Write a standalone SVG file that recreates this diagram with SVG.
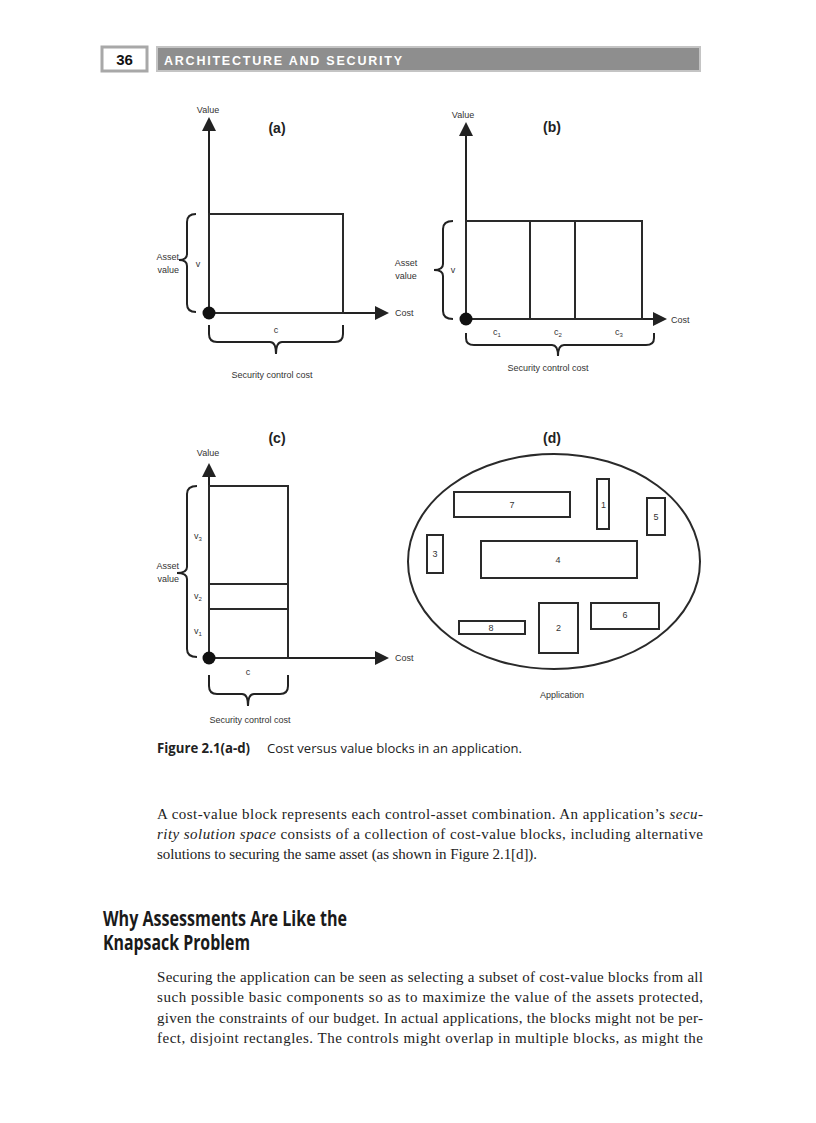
<svg xmlns="http://www.w3.org/2000/svg" width="816" height="1123" viewBox="0 0 816 1123">
<defs>
<style>
.ax{stroke:#222;stroke-width:2;fill:none}
.bx{stroke:#2a2a2a;stroke-width:2;fill:#fff}
.ln{stroke:#2a2a2a;stroke-width:2;fill:none}
.br{stroke:#222;stroke-width:2;fill:none}
.dot{fill:#111}
.lb{font-family:"Liberation Sans",Arial,sans-serif;font-size:9px;fill:#333}
.sub{font-size:6px}
.pl{font-family:"Liberation Sans",Arial,sans-serif;font-size:14px;font-weight:bold;fill:#222}
.body{font-family:"Liberation Serif","Times New Roman",serif;font-size:15px;fill:#222}
.it{font-style:italic}
.hd{font-family:"Open Sans","Noto Sans",sans-serif;font-size:21px;font-weight:bold;fill:#1a1a1a}
.cap{font-family:"Open Sans","Noto Sans",sans-serif;font-size:13.5px;fill:#222}
</style>
<marker id="ah" markerUnits="userSpaceOnUse" markerWidth="14" markerHeight="14" viewBox="0 0 14 14" refX="1" refY="7" orient="auto">
<path d="M0,0 L14,7 L0,14 z" fill="#222"/>
</marker>
</defs>
<rect width="816" height="1123" fill="#fff"/>

<g id="header">
<rect x="102" y="47" width="45" height="24" fill="#fff" stroke="#a8a8a8" stroke-width="3"/>
<text x="124.5" y="65" text-anchor="middle" font-family="'Liberation Sans',Arial,sans-serif" font-size="15" font-weight="bold" fill="#111">36</text>
<rect x="157" y="47" width="543" height="24" fill="#8e8e8e" stroke="#c4c4c4" stroke-width="2"/>
<text x="164" y="65" font-family="'Liberation Sans',Arial,sans-serif" font-size="12.5" font-weight="bold" fill="#fff" textLength="238" lengthAdjust="spacing">ARCHITECTURE AND SECURITY</text>
</g>

<g id="connectors">
<line class="ax" x1="209" y1="313" x2="209" y2="130" marker-end="url(#ah)"/>
<line class="ax" x1="209" y1="313" x2="376" y2="313" marker-end="url(#ah)"/>
<line class="ax" x1="466" y1="319" x2="466" y2="135" marker-end="url(#ah)"/>
<line class="ax" x1="466" y1="319" x2="654" y2="319" marker-end="url(#ah)"/>
<line class="ax" x1="209" y1="658" x2="209" y2="476" marker-end="url(#ah)"/>
<line class="ax" x1="209" y1="658" x2="376" y2="658" marker-end="url(#ah)"/>
</g>

<g id="panel-a">
<text class="pl" x="277" y="133" text-anchor="middle">(a)</text>
<text class="lb" x="208" y="113" text-anchor="middle">Value</text>
<g id="block-a"><rect x="209" y="214" width="134" height="99" class="ln"/></g>
<circle class="dot" cx="209" cy="313" r="6.5"/>
<path class="br" d="M196,214 Q187,214 187,222 L187,254 Q187,260 179,260 Q187,260 187,266 L187,304 Q187,312 196,312"/>
<text class="lb" x="179" y="260" text-anchor="end">Asset</text>
<text class="lb" x="179" y="273" text-anchor="end">value</text>
<text class="lb" x="198" y="267" text-anchor="middle">v</text>
<text class="lb" x="395" y="316">Cost</text>
<text class="lb" x="276" y="333" text-anchor="middle">c</text>
<path class="br" d="M209,325 L209,334 Q209,342 217,342 L270,342 Q276,342 276,354 Q276,342 282,342 L335,342 Q343,342 343,334 L343,325"/>
<text class="lb" x="272" y="378" text-anchor="middle">Security control cost</text>
</g>

<g id="panel-b">
<text class="pl" x="552" y="132" text-anchor="middle">(b)</text>
<text class="lb" x="463" y="118" text-anchor="middle">Value</text>
<g id="block-b"><rect x="466" y="221" width="176" height="98" class="ln"/>
<line class="ln" x1="530" y1="221" x2="530" y2="319"/>
<line class="ln" x1="575" y1="221" x2="575" y2="319"/></g>
<circle class="dot" cx="466" cy="319" r="6.5"/>
<path class="br" d="M453,221 Q443,221 443,229 L443,264 Q443,270 434,270 Q443,270 443,276 L443,311 Q443,319 453,319"/>
<text class="lb" x="406" y="266" text-anchor="middle">Asset</text>
<text class="lb" x="406" y="279" text-anchor="middle">value</text>
<text class="lb" x="453" y="273" text-anchor="middle">v</text>
<text class="lb" x="671" y="323">Cost</text>
<text class="lb" x="493" y="335">c<tspan class="sub" dy="2">1</tspan></text>
<text class="lb" x="554" y="335">c<tspan class="sub" dy="2">2</tspan></text>
<text class="lb" x="615" y="335">c<tspan class="sub" dy="2">3</tspan></text>
<path class="br" d="M466,333 L466,338 Q466,345 474,345 L552,345 Q558,345 558,356 Q558,345 564,345 L646,345 Q654,345 654,338 L654,333"/>
<text class="lb" x="548" y="371" text-anchor="middle">Security control cost</text>
</g>

<g id="panel-c">
<text class="pl" x="277" y="443" text-anchor="middle">(c)</text>
<text class="lb" x="208" y="456" text-anchor="middle">Value</text>
<g id="block-c"><rect x="209" y="486" width="79" height="172" class="ln"/>
<line class="ln" x1="209" y1="584" x2="288" y2="584"/>
<line class="ln" x1="209" y1="609" x2="288" y2="609"/></g>
<circle class="dot" cx="209" cy="658" r="6.5"/>
<path class="br" d="M197,486 Q187,486 187,494 L187,567 Q187,573 177,573 Q187,573 187,579 L187,649 Q187,657 197,657"/>
<text class="lb" x="179" y="569" text-anchor="end">Asset</text>
<text class="lb" x="179" y="582" text-anchor="end">value</text>
<text class="lb" x="194" y="539">v<tspan class="sub" dy="2">3</tspan></text>
<text class="lb" x="194" y="599">v<tspan class="sub" dy="2">2</tspan></text>
<text class="lb" x="194" y="634">v<tspan class="sub" dy="2">1</tspan></text>
<text class="lb" x="395" y="661">Cost</text>
<text class="lb" x="248" y="675" text-anchor="middle">c</text>
<path class="br" d="M209,675 L209,686 Q209,694 217,694 L242,694 Q248,694 248,706 Q248,694 254,694 L280,694 Q288,694 288,686 L288,675"/>
<text class="lb" x="250" y="723" text-anchor="middle">Security control cost</text>
</g>

<g id="panel-d">
<text class="pl" x="552" y="443" text-anchor="middle">(d)</text>
<ellipse cx="554" cy="561.5" rx="146" ry="107.5" class="ln"/>
<g id="blk7"><rect class="bx" x="454" y="492" width="116" height="25"/><text class="lb" x="512" y="507.5" text-anchor="middle">7</text></g>
<g id="blk1"><rect class="bx" x="597" y="479" width="12" height="50"/><text class="lb" x="603.5" y="507.5" text-anchor="middle">1</text></g>
<g id="blk5"><rect class="bx" x="647" y="498" width="18" height="37"/><text class="lb" x="656" y="519.5" text-anchor="middle">5</text></g>
<g id="blk3"><rect class="bx" x="427" y="535" width="16" height="38"/><text class="lb" x="435" y="556.5" text-anchor="middle">3</text></g>
<g id="blk4"><rect class="bx" x="481" y="541" width="156" height="37"/><text class="lb" x="558" y="562.5" text-anchor="middle">4</text></g>
<g id="blk8"><rect class="bx" x="459" y="621" width="66" height="13"/><text class="lb" x="491" y="630.5" text-anchor="middle">8</text></g>
<g id="blk2"><rect class="bx" x="539" y="603" width="39" height="50"/><text class="lb" x="558.5" y="630.5" text-anchor="middle">2</text></g>
<g id="blk6"><rect class="bx" x="591" y="603" width="68" height="26"/><text class="lb" x="625" y="617.5" text-anchor="middle">6</text></g>
<text class="lb" x="562" y="698" text-anchor="middle">Application</text>
</g>

<g id="caption">
<text class="cap" x="157" y="753" font-weight="bold" textLength="93" lengthAdjust="spacingAndGlyphs">Figure 2.1(a-d)</text>
<text class="cap" x="267" y="753" textLength="255" lengthAdjust="spacingAndGlyphs">Cost versus value blocks in an application.</text>
</g>

<g id="para1" class="body">
<text x="157" y="819" textLength="546" lengthAdjust="spacing">A cost-value block represents each control-asset combination. An application’s <tspan class="it">secu-</tspan></text>
<text x="157" y="839" textLength="546" lengthAdjust="spacing"><tspan class="it">rity solution space</tspan> consists of a collection of cost-value blocks, including alternative</text>
<text x="157" y="859" textLength="380" lengthAdjust="spacing">solutions to securing the same asset (as shown in Figure 2.1[d]).</text>
</g>

<g id="heading" class="hd">
<text x="103" y="926" textLength="244" lengthAdjust="spacingAndGlyphs">Why Assessments Are Like the</text>
<text x="103" y="950" textLength="147" lengthAdjust="spacingAndGlyphs">Knapsack Problem</text>
</g>

<g id="para2" class="body">
<text x="157" y="982" textLength="546" lengthAdjust="spacing">Securing the application can be seen as selecting a subset of cost-value blocks from all</text>
<text x="157" y="1002" textLength="546" lengthAdjust="spacing">such possible basic components so as to maximize the value of the assets protected,</text>
<text x="157" y="1023" textLength="546" lengthAdjust="spacing">given the constraints of our budget. In actual applications, the blocks might not be per-</text>
<text x="157" y="1043" textLength="546" lengthAdjust="spacing">fect, disjoint rectangles. The controls might overlap in multiple blocks, as might the</text>
</g>
</svg>
